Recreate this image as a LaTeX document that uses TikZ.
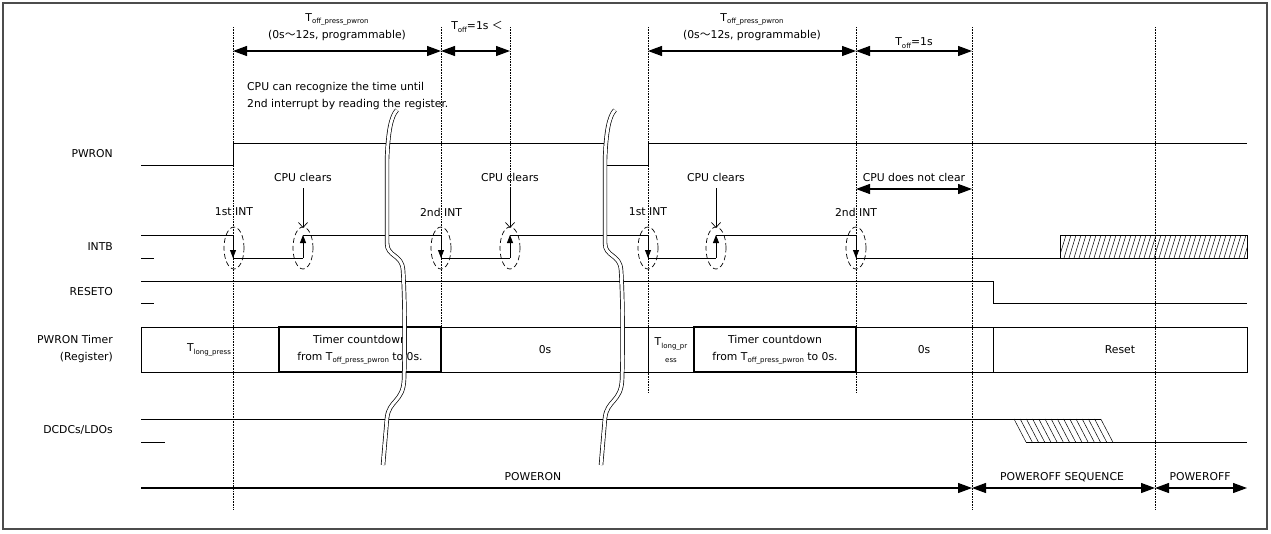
\documentclass[tikz,border=0pt]{standalone}
\usepackage{fontspec}
\setmainfont{DejaVu Sans}
\newfontfamily\cjk{Noto Sans CJK JP}
\usetikzlibrary{arrows.meta}
\newcommand{\tsub}[1]{\raisebox{-0.4ex}{\fontsize{7}{8}\selectfont #1}}
\begin{document}
\begin{tikzpicture}[x=1pt,y=-1pt,
    every node/.style={font=\fontsize{10.8}{17}\selectfont,inner sep=0pt},
    sig/.style={line width=0.8pt},
    tmark/.style={densely dotted,line width=0.6pt},
    dimarr/.style={{Triangle[length=14pt,width=10pt]}-{Triangle[length=14pt,width=10pt]},line width=1.2pt},
    endarr/.style={-{Triangle[length=14pt,width=10pt]},line width=1.2pt},
    flank/.style={-{Triangle[length=8pt,width=6pt]},line width=0.8pt},
    ring/.style={dash pattern=on 5pt off 3pt,line width=0.7pt},
    clr/.style={-{Straight Barb[length=5pt,width=9pt]},line width=0.7pt},
    brk/.style={double=white,double distance=3pt,line width=0.7pt},
    hatch/.style={line width=0.5pt},
    cntbox/.style={line width=1.6pt}]
        %cornice
        \useasboundingbox (0,0) rectangle (1271,533);
        \draw[line width=1.5pt,black!70] (3,3) rectangle (1267,529);
        %linee dei tempi
        \foreach \t/\b in {233/510,441/327,510/188,648/393,856/393,972/510,1155/510}
            \draw[tmark] (\t,27) -- (\t,\b);
        %quote in alto
        \coordinate (a1) at (233,51);
        \coordinate (a2) at (441,51);
        \coordinate (a3) at (510,51);
        \coordinate (a4) at (648,51);
        \coordinate (a5) at (856,51);
        \coordinate (a6) at (972,51);
        \draw[dimarr] (a1) -- (a2);
        \draw[dimarr] (a2) -- (a3);
        \draw[dimarr] (a4) -- (a5);
        \draw[dimarr] (a5) -- (a6);
        \node[align=center] (tpwa) at (337,27) {T\tsub{off\_press\_pwron}\\(0s{\cjk ～}12s, programmable)};
        \node (toffa) at (477,27) {T\tsub{off}=1s {\cjk ＜}};
        \node[align=center] (tpwb) at (752,27) {T\tsub{off\_press\_pwron}\\(0s{\cjk ～}12s, programmable)};
        \node (toffb) at (914,43) {T\tsub{off}=1s};
        \node[align=left,anchor=west] (cpunote) at (247,96) {CPU can recognize the time until\\2nd interrupt by reading the register.};
        %nomi dei segnali
        \node[anchor=east] (lpwron) at (113,154) {PWRON};
        \node[anchor=east] (lintb) at (113,247) {INTB};
        \node[anchor=east] (lreset) at (113,292) {RESETO};
        \node[anchor=east,align=right] (ltimer) at (113,349) {PWRON Timer\\(Register)};
        \node[anchor=east] (ldcdc) at (113,430) {DCDCs/LDOs};
        %PWRON
        \draw[sig] (141,165) -- (233,165) -- (233,143) -- (607,143);
        \draw[sig] (607,165) -- (648,165) -- (648,143) -- (1247,143);
        %INTB
        \draw[sig] (141,235) -- (233,235) (233,258) -- (303,258) (303,235) -- (441,235)
            (441,258) -- (510,258) (510,235) -- (648,235) (648,258) -- (716,258)
            (716,235) -- (856,235) (856,258) -- (1247,258);
        \draw[sig] (141,258) -- (154,258);
        \foreach \x in {233,441,648,856} \draw[flank] (\x,235) -- (\x,258);
        \foreach \x in {303,510,716} \draw[flank] (\x,258) -- (\x,235);
        \foreach \x in {234,303,441,510,648,716,856}
            \draw[ring] (\x,248) ellipse [x radius=10pt,y radius=21pt];
        \draw[sig] (1060,235) rectangle (1247,258);
        \begin{scope}
            \clip (1060,235) rectangle (1247,258);
            \foreach \i in {0,...,38} \draw[hatch] ({1054+5*\i},258) -- ({1061+5*\i},235);
        \end{scope}
        %interrupt e clear
        \node (int1) at (234,212) {1st INT};
        \node (int2) at (441,212) {2nd INT};
        \node (int3) at (648,212) {1st INT};
        \node (int4) at (856,212) {2nd INT};
        \node (clr1) at (303,177) {CPU clears};
        \node (clr2) at (510,177) {CPU clears};
        \node (clr3) at (716,177) {CPU clears};
        \coordinate (r1) at (303,228);
        \coordinate (r2) at (510,228);
        \coordinate (r3) at (716,228);
        \draw[clr] (clr1.south) ++(0,7) -- (r1);
        \draw[clr] (clr2.south) ++(0,7) -- (r2);
        \draw[clr] (clr3.south) ++(0,7) -- (r3);
        \node (noclr) at (914,177) {CPU does not clear};
        \coordinate (c1) at (856,189);
        \coordinate (c2) at (972,189);
        \draw[dimarr] (c1) -- (c2);
        %RESETO
        \draw[sig] (141,281) -- (993,281) -- (993,303) -- (1247,303);
        \draw[sig] (141,303) -- (154,303);
        %registro timer
        \draw[sig] (141,327) rectangle (1247,372);
        \foreach \x in {441,648,856,993} \draw[sig] (\x,327) -- (\x,372);
        \draw[cntbox] (279,327) rectangle (441,372);
        \draw[cntbox] (694,327) rectangle (856,372);
        \node (tlp1) at (209,350) {T\tsub{long\_press}};
        \node[align=center] (cnt1) at (360,350) {Timer countdown\\from T\tsub{off\_press\_pwron} to 0s.};
        \node (zero1) at (545,350) {0s};
        \node[align=center,font=\fontsize{10.8}{14}\selectfont] (tlp2) at (671,350) {T\tsub{long\_pr}\\\tsub{ess}};
        \node[align=center] (cnt2) at (775,350) {Timer countdown\\from T\tsub{off\_press\_pwron} to 0s.};
        \node (zero2) at (924,350) {0s};
        \node (rst) at (1120,350) {Reset};
        %DCDCs/LDOs
        \draw[sig] (141,419) -- (1101,419);
        \draw[sig] (1026,442) -- (1247,442);
        \draw[sig] (141,442) -- (165,442);
        \foreach \i in {0,...,14} \draw[hatch] ({1014+6.2*\i},419) -- ({1026+6.2*\i},442);
        %interruzioni
        \foreach \dx in {0,218}
            \draw[brk,xshift=\dx] (397,110) .. controls (391,116) and (388,132) .. (387,160) -- (387,243)
                .. controls (387,257) and (402,254) .. (403,270) .. controls (405,300) and (405,350) .. (404,380)
                .. controls (403,402) and (389,400) .. (387,418) -- (383,465);
        %fasi
        \coordinate (p0) at (141,488);
        \coordinate (p1) at (972,488);
        \coordinate (p2) at (1155,488);
        \coordinate (p3) at (1247,488);
        \draw[endarr] (p0) -- (p1);
        \draw[dimarr] (p1) -- (p2);
        \draw[dimarr] (p2) -- (p3);
        \node (pon) at (533,477) {POWERON};
        \node (poffseq) at (1062,477) {POWEROFF SEQUENCE};
        \node (poff) at (1200,477) {POWEROFF};
\end{tikzpicture}
\end{document}
